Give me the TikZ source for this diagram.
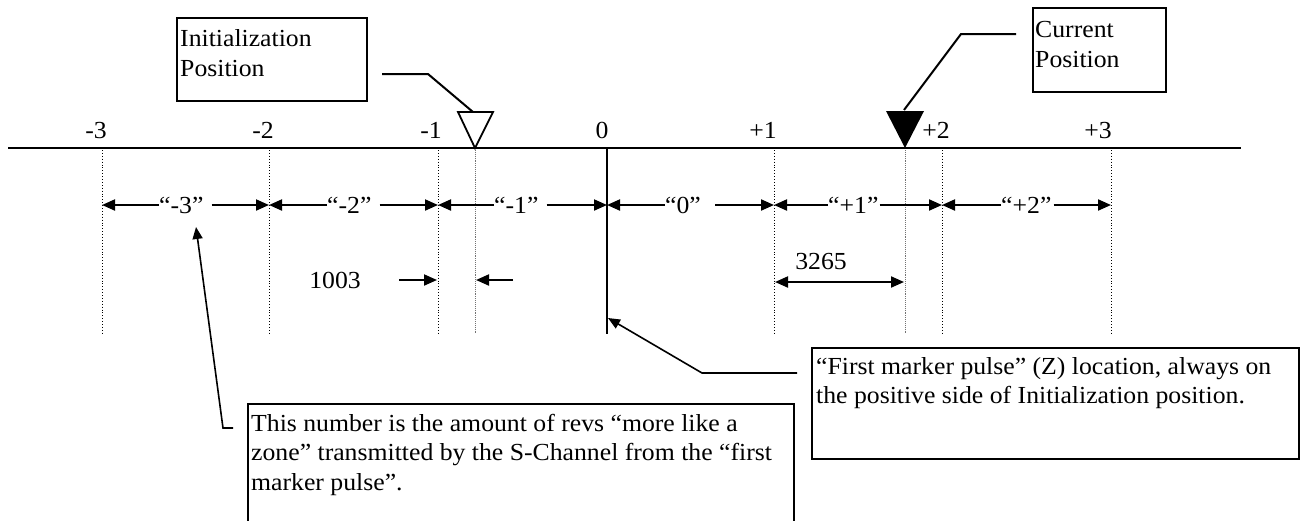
\documentclass[tikz,border=0pt]{standalone}
\usepackage{fontspec}
\setmainfont[FakeStretch=1.05]{Liberation Serif}
\usetikzlibrary{arrows.meta}
\begin{document}
\begin{tikzpicture}[x=1pt,y=-1pt,
  lbl/.style={font=\fontsize{24.5}{30}\selectfont, inner sep=0pt},
  frame/.style={draw, line width=2pt, inner sep=0pt, anchor=north west},
  axis/.style={line width=2.6pt},
  tickdot/.style={dotted, line width=0.9pt},
  tickgray/.style={densely dotted, line width=0.9pt, draw=black!55},
  dim/.style={line width=2pt, -{Triangle[length=13pt,width=11pt]}},
  dimboth/.style={line width=2pt, {Triangle[length=13pt,width=11pt]}-{Triangle[length=13pt,width=11pt]}},
  lead/.style={line width=2pt},
  ptr/.style={line width=1.6pt, -{Triangle[length=12pt,width=10pt]}}]
\useasboundingbox (0,0) rectangle (1306,520);

% axis
\coordinate (axL) at (8,148);
\coordinate (axR) at (1241,148);
\draw[axis] (axL) -- (axR);

% tick labels
\node[lbl, anchor=base] (lm3) at (96,138) {-3};
\node[lbl, anchor=base] (lm2) at (263,138) {-2};
\node[lbl, anchor=base] (lm1) at (431,138) {-1};
\node[lbl, anchor=base] (l0) at (602,138) {0};
\node[lbl, anchor=base] (lp1) at (763,138) {+1};
\node[lbl, anchor=base] (lp2) at (936,138) {+2};
\node[lbl, anchor=base] (lp3) at (1098,138) {+3};

% vertical lines
\coordinate (tm3) at (102,150); \coordinate (bm3) at (102,334);
\coordinate (tm2) at (269,150); \coordinate (bm2) at (269,334);
\coordinate (tm1) at (438,150); \coordinate (bm1) at (438,334);
\coordinate (tin) at (475,150); \coordinate (bin) at (475,334);
\coordinate (tz) at (607,148);  \coordinate (bz) at (607,334);
\coordinate (tp1) at (774,150); \coordinate (bp1) at (774,334);
\coordinate (tcu) at (905,150); \coordinate (bcu) at (905,334);
\coordinate (tp2) at (942,150); \coordinate (bp2) at (942,334);
\coordinate (tp3) at (1111,150); \coordinate (bp3) at (1111,334);
\draw[tickdot] (tm3) -- (bm3);
\draw[tickdot] (tm2) -- (bm2);
\draw[tickdot] (tm1) -- (bm1);
\draw[tickgray] (tin) -- (bin);
\draw[axis, line width=2.4pt] (tz) -- (bz);
\draw[tickdot] (tp1) -- (bp1);
\draw[tickgray] (tcu) -- (bcu);
\draw[tickdot] (tp2) -- (bp2);
\draw[tickdot] (tp3) -- (bp3);

% zone arrows
\coordinate (am3) at (102,205);
\coordinate (am2) at (269,205);
\coordinate (am1) at (438,205);
\coordinate (az) at (607,205);
\coordinate (ap1) at (774,205);
\coordinate (ap2) at (942,205);
\coordinate (ap3) at (1111,205);
\node[lbl, anchor=west] (zm3) at (159,205) {“-3”};
\node[lbl, anchor=west] (zm2) at (327,205) {“-2”};
\node[lbl, anchor=west] (zm1) at (494,205) {“-1”};
\node[lbl, anchor=west] (zz) at (665,205) {“0”};
\node[lbl, anchor=west] (zp1) at (828,205) {“+1”};
\node[lbl, anchor=west] (zp2) at (1001,205) {“+2”};
\draw[dim] (zm3.west) -- (am3);
\draw[dim] ([xshift=8pt]zm3.east) -- (am2);
\draw[dim] (zm2.west) -- (am2);
\draw[dim] ([xshift=8pt]zm2.east) -- (am1);
\draw[dim] (zm1.west) -- (am1);
\draw[dim] ([xshift=8pt]zm1.east) -- (az);
\draw[dim] (zz.west) -- (az);
\draw[dim] ([xshift=14pt]zz.east) -- (ap1);
\draw[dim] (zp1.west) -- (ap1);
\draw[dim] ([xshift=1pt]zp1.east) -- (ap2);
\draw[dim] (zp2.west) -- (ap2);
\draw[dim] ([xshift=2pt]zp2.east) -- (ap3);

% 1003
\node[lbl] (n1003) at (335,280) {1003};
\coordinate (d1a) at (399,280); \coordinate (d1b) at (437,280);
\coordinate (d2a) at (513,280); \coordinate (d2b) at (476,280);
\draw[dim] (d1a) -- (d1b);
\draw[dim] (d2a) -- (d2b);

% 3265
\node[lbl] (n3265) at (821,262) {3265};
\coordinate (e1) at (775,282); \coordinate (e2) at (904,282);
\draw[dimboth] (e1) -- (e2);

% initialization marker
\coordinate (ia) at (458,112); \coordinate (ib) at (493,112); \coordinate (ic) at (475,148);
\draw[line width=1.8pt, line join=miter] (ia) -- (ib) -- (ic) -- cycle;
\node[frame, minimum width=190pt, minimum height=83pt] (initbox) at (176,17) {};
\node[lbl, anchor=base west] (init1) at (180,46) {Initialization};
\node[lbl, anchor=base west] (init2) at (180,76) {Position};
\coordinate (ilA) at (382,74); \coordinate (ilB) at (428,74); \coordinate (ilC) at (473,112);
\draw[lead] (ilA) -- (ilB) -- (ilC);

% current marker
\coordinate (ca) at (886,111); \coordinate (cb) at (924,111); \coordinate (cc) at (905,148);
\fill (ca) -- (cb) -- (cc) -- cycle;
\node[frame, minimum width=133pt, minimum height=84pt] (curbox) at (1032,7) {};
\node[lbl, anchor=base west] (cur1) at (1035,37) {Current};
\node[lbl, anchor=base west] (cur2) at (1035,67) {Position};
\coordinate (clA) at (1016,34); \coordinate (clB) at (961,34); \coordinate (clC) at (904,110);
\draw[lead] (clA) -- (clB) -- (clC);

% first marker pulse box
\node[frame, minimum width=487pt, minimum height=111pt] (fmbox) at (811,347) {};
\node[lbl, anchor=base west] (fm1) at (816,374) {“First marker pulse” (Z) location, always on};
\node[lbl, anchor=base west] (fm2) at (816,403) {the positive side of Initialization position.};
\coordinate (fmA) at (797,373); \coordinate (fmB) at (702,373); \coordinate (fmC) at (608,318);
\draw[ptr] (fmA) -- (fmB) -- (fmC);

% this number box
\node[frame, minimum width=546pt, minimum height=130pt] (tnbox) at (247,403) {};
\node[lbl, anchor=base west] (tn1) at (251,431) {This number is the amount of revs “more like a};
\node[lbl, anchor=base west] (tn2) at (251,460) {zone” transmitted by the S-Channel from the “first};
\node[lbl, anchor=base west] (tn3) at (251,490) {marker pulse”.};
\coordinate (tbA) at (233,428); \coordinate (tbB) at (223,428); \coordinate (tbC) at (196,227);
\draw[ptr] (tbA) -- (tbB) -- (tbC);
\end{tikzpicture}
\end{document}
